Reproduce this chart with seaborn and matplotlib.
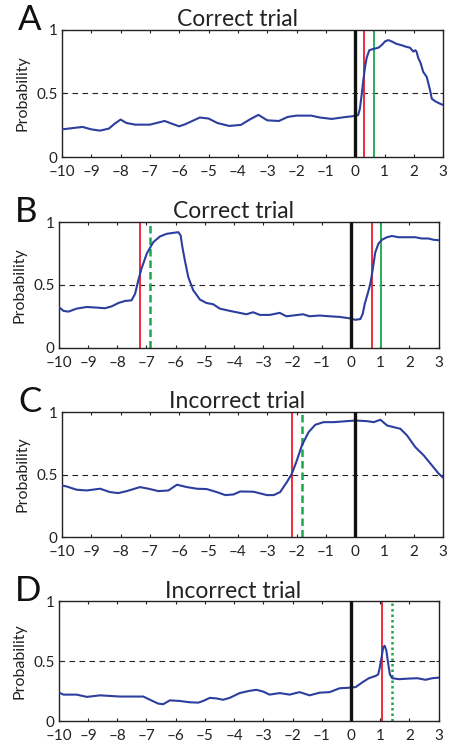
import numpy as np
import pandas as pd
import matplotlib
matplotlib.use('Agg')
import matplotlib.pyplot as plt
import seaborn as sns

# ── DATA ────────────────────────────────────────────────────────────────────
a_time = [-10, -9.6, -9.3, -9.0, -8.7, -8.4, -8.2, -8.0, -7.8, -7.5, -7.0, -6.5, -6.2,
          -6.0, -5.8, -5.3, -5.0, -4.7, -4.3, -3.9, -3.6, -3.3, -3.0, -2.6, -2.3, -2.0,
          -1.5, -1.2, -0.8, -0.4, -0.1, 0.10, 0.16, 0.22, 0.27, 0.33, 0.39, 0.48, 0.61,
          0.79, 0.90, 1.02, 1.13, 1.24, 1.41, 1.58, 1.70, 1.87, 1.98, 2.05, 2.09, 2.15,
          2.23, 2.32, 2.44, 2.55, 2.61, 2.72, 2.89, 3.0]
a_prob = [0.218, 0.229, 0.237, 0.218, 0.208, 0.224, 0.263, 0.295, 0.268, 0.255, 0.255,
          0.284, 0.258, 0.242, 0.258, 0.311, 0.303, 0.268, 0.245, 0.253, 0.295, 0.332,
          0.289, 0.284, 0.316, 0.326, 0.326, 0.311, 0.300, 0.313, 0.321, 0.33, 0.38,
          0.49, 0.59, 0.70, 0.78, 0.84, 0.85, 0.86, 0.88, 0.91, 0.92, 0.91, 0.89, 0.88,
          0.87, 0.86, 0.83, 0.84, 0.83, 0.78, 0.74, 0.67, 0.63, 0.53, 0.46, 0.44, 0.42,
          0.41]

b_time = [-10, -9.84, -9.67, -9.39, -9.04, -8.70, -8.42, -8.19, -7.96, -7.73, -7.51,
          -7.39, -7.28, -7.17, -6.99, -6.77, -6.54, -6.31, -6.08, -5.91, -5.83, -5.77,
          -5.69, -5.57, -5.40, -5.17, -4.95, -4.72, -4.49, -4.15, -3.81, -3.58, -3.35,
          -3.12, -2.78, -2.44, -2.21, -1.99, -1.64, -1.42, -1.08, -0.73, -0.39, -0.05,
          0.15, 0.32, 0.40, 0.47, 0.55, 0.60, 0.66, 0.72, 0.83, 0.94, 1.06, 1.23, 1.40,
          1.63, 1.86, 2.20, 2.42, 2.65, 2.82, 3.0]
b_prob = [0.325, 0.294, 0.288, 0.312, 0.325, 0.32, 0.315, 0.33, 0.357, 0.373, 0.378,
          0.43, 0.537, 0.63, 0.75, 0.84, 0.886, 0.907, 0.915, 0.92, 0.894, 0.80, 0.70,
          0.563, 0.458, 0.384, 0.357, 0.347, 0.312, 0.294, 0.278, 0.267, 0.283, 0.262,
          0.262, 0.278, 0.251, 0.257, 0.267, 0.251, 0.257, 0.251, 0.246, 0.235, 0.223,
          0.229, 0.27, 0.35, 0.415, 0.455, 0.51, 0.59, 0.76, 0.83, 0.86, 0.88, 0.89,
          0.88, 0.88, 0.88, 0.87, 0.87, 0.86, 0.856]

c_time = [-10, -9.84, -9.50, -9.16, -8.70, -8.36, -8.08, -7.79, -7.34, -7.05, -6.71,
          -6.37, -6.08, -5.74, -5.40, -5.06, -4.72, -4.43, -4.15, -3.92, -3.47, -3.01,
          -2.78, -2.56, -2.33, -2.16, -1.99, -1.82, -1.59, -1.36, -1.08, -0.73, -0.28,
          0.01, 0.40, 0.63, 0.86, 1.09, 1.31, 1.54, 1.77, 2.05, 2.34, 2.62, 2.85, 3.0]
c_prob = [0.413, 0.405, 0.379, 0.373, 0.387, 0.36, 0.352, 0.368, 0.40, 0.387, 0.368,
          0.373, 0.419, 0.40, 0.387, 0.384, 0.36, 0.336, 0.341, 0.365, 0.363, 0.336,
          0.336, 0.36, 0.44, 0.507, 0.613, 0.733, 0.84, 0.899, 0.92, 0.92, 0.928, 0.933,
          0.928, 0.92, 0.939, 0.893, 0.88, 0.867, 0.813, 0.72, 0.653, 0.573, 0.507,
          0.475]

d_time = [-10, -9.84, -9.39, -9.04, -8.59, -8.25, -7.91, -7.45, -7.11, -6.88, -6.60,
          -6.43, -6.20, -5.86, -5.52, -5.23, -5.06, -4.83, -4.60, -4.38, -4.15, -3.81,
          -3.47, -3.24, -3.01, -2.79, -2.44, -2.10, -1.76, -1.42, -1.08, -0.73, -0.39,
          -0.05, 0.16, 0.39, 0.61, 0.84, 0.93, 0.98, 1.04, 1.10, 1.15, 1.21, 1.27, 1.33,
          1.41, 1.64, 1.98, 2.27, 2.55, 2.78, 3.0]
d_prob = [0.239, 0.221, 0.221, 0.202, 0.215, 0.21, 0.205, 0.205, 0.205, 0.178, 0.146,
          0.141, 0.173, 0.168, 0.157, 0.154, 0.168, 0.194, 0.189, 0.178, 0.194, 0.234,
          0.253, 0.261, 0.247, 0.221, 0.234, 0.221, 0.242, 0.215, 0.237, 0.242, 0.274,
          0.279, 0.284, 0.324, 0.358, 0.377, 0.39, 0.443, 0.523, 0.615, 0.629, 0.589,
          0.483, 0.39, 0.358, 0.35, 0.355, 0.358, 0.345, 0.358, 0.363]

panel_letters = ['A', 'B', 'C', 'D']
panel_titles = ['Correct trial', 'Correct trial', 'Incorrect trial', 'Incorrect trial']
# event markers: (time, kind)
a_events = [(0.0, 'black'), (0.31, 'red'), (0.64, 'green')]
b_events = [(-7.22, 'red'), (-6.87, 'green_dash'), (0.0, 'black'), (0.72, 'red'), (1.04, 'green')]
c_events = [(-2.15, 'red'), (-1.82, 'green_dash'), (0.0, 'black')]
d_events = [(0.0, 'black'), (1.05, 'red'), (1.39, 'green_dot')]

x_ticks = list(range(-10, 4))
x_tick_labels = ['\u2013' + str(-v) if v < 0 else str(v) for v in x_ticks]
y_ticks = [0, 0.5, 1]
y_tick_labels = ['0', '0.5', '1']

# ── STYLE ───────────────────────────────────────────────────────────────────
sns.set_style('ticks')
plt.rcParams['font.family'] = ['Lato', 'DejaVu Sans']

BLUE = '#2c3e9e'
EVENT_STYLE = {
    'black': dict(color='#111111', lw=2.4, ls='-'),
    'red': dict(color='#ee2b3b', lw=1.4, ls='-'),
    'green': dict(color='#19a84c', lw=1.3, ls='-'),
    'green_dash': dict(color='#19a84c', lw=1.8, ls=(0, (3, 1.6))),
    'green_dot': dict(color='#19a84c', lw=1.8, ls=(0, (1, 1.2))),
}

positions = [
    [0.138, 0.790, 0.849, 0.170],
    [0.131, 0.535, 0.846, 0.168],
    [0.138, 0.282, 0.849, 0.167],
    [0.131, 0.036, 0.846, 0.160],
]

fig = plt.figure(figsize=(4.49, 7.48), dpi=100)
fig.patch.set_facecolor('white')

series = [(a_time, a_prob, a_events), (b_time, b_prob, b_events),
          (c_time, c_prob, c_events), (d_time, d_prob, d_events)]

for i, (t, p, events) in enumerate(series):
    ax = fig.add_axes(positions[i])
    df = pd.DataFrame({'time': t, 'prob': p})
    ax.axhline(0.5, color='#222222', lw=0.8, ls=(0, (5, 4)), zorder=1)
    sns.lineplot(data=df, x='time', y='prob', ax=ax, color=BLUE, lw=1.5, zorder=3)
    for ev_t, kind in events:
        ax.axvline(ev_t, zorder=4 if kind == 'black' else 2, **EVENT_STYLE[kind])

    ax.set_xlim(-10, 3)
    ax.set_ylim(0, 1)
    ax.set_xticks(x_ticks)
    ax.set_xticklabels(x_tick_labels)
    ax.set_yticks(y_ticks)
    ax.set_yticklabels(y_tick_labels)
    ax.set_xlabel('')
    ax.set_ylabel('Probability', fontsize=11.5, color='#222222')
    ax.yaxis.set_label_coords(-0.085, 0.5)
    ax.tick_params(direction='in', length=2.5, width=0.8, top=True, right=True,
                   labelsize=11, colors='#222222', pad=3)
    ax.tick_params(axis='x', pad=6)
    for spine in ax.spines.values():
        spine.set_visible(True)
        spine.set_edgecolor('#222222')
        spine.set_linewidth(1.0)

    ax.text(0.46, 1.03, panel_titles[i], transform=ax.transAxes, ha='center',
            va='baseline', fontsize=16.5, color='#222222')
    ax.text(-0.115, 1.0, panel_letters[i], transform=ax.transAxes, ha='left',
            va='baseline', fontsize=25, color='#111111')

fig.savefig('out.png', dpi=100, facecolor='white')
